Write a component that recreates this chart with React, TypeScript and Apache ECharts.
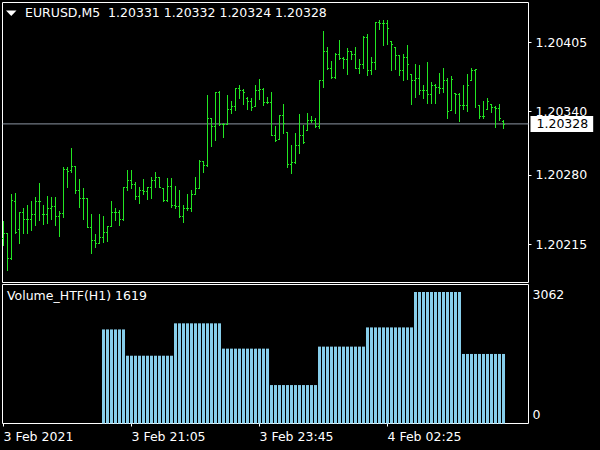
import React, { useEffect, useRef } from "react";
import * as echarts from "echarts";

// ---- data (EURUSD M5, one bar per 5 minutes, starting 3 Feb 2021 18:25) ----
const opens = [
  1.20221, 1.20225, 1.20202, 1.20255, 1.20229, 1.20245, 1.20239, 1.20239, 1.20243, 1.20255,
  1.20243, 1.20243, 1.20249, 1.20251, 1.20241, 1.20244, 1.20286, 1.20285, 1.20288, 1.20266,
  1.20258, 1.20258, 1.20231, 1.20219, 1.20216, 1.20222, 1.20226, 1.20232, 1.20245, 1.20245,
  1.20239, 1.20269, 1.20275, 1.20271, 1.2026, 1.20266, 1.20265, 1.20269, 1.20275, 1.20278,
  1.20268, 1.20256, 1.2027, 1.20252, 1.20251, 1.20241, 1.20249, 1.20249, 1.20262, 1.20268,
  1.20293, 1.20289, 1.20334, 1.20326, 1.20358, 1.20328, 1.20328, 1.20342, 1.20345, 1.20362,
  1.2036, 1.20352, 1.2035, 1.20345, 1.2036, 1.20361, 1.20349, 1.20349, 1.20318, 1.20314,
  1.20336, 1.2032, 1.2029, 1.20292, 1.20308, 1.20318, 1.20322, 1.20332, 1.20332, 1.20326,
  1.20369, 1.20397, 1.20381, 1.20372, 1.20394, 1.2039, 1.20389, 1.20397, 1.20394, 1.20381,
  1.20384, 1.2041, 1.20379, 1.20386, 1.20424, 1.20423, 1.20423, 1.20406, 1.204, 1.20393,
  1.20379, 1.20391, 1.20375, 1.20369, 1.20371, 1.2036, 1.2036, 1.20356, 1.20365, 1.20363,
  1.20362, 1.20369, 1.20341, 1.20357, 1.20356, 1.20346, 1.20346, 1.20369, 1.20379, 1.20346,
  1.20335, 1.20342, 1.20347, 1.20344, 1.20343, 1.20331,
];
const highs = [
  1.20237, 1.20225, 1.20262, 1.20263, 1.20245, 1.20249, 1.20252, 1.20255, 1.20259, 1.20272,
  1.20252, 1.2026, 1.20259, 1.20259, 1.20246, 1.20287, 1.20287, 1.20305, 1.20288, 1.20276,
  1.20268, 1.20258, 1.20243, 1.20224, 1.20243, 1.20241, 1.20232, 1.20255, 1.20249, 1.20247,
  1.20269, 1.20285, 1.20285, 1.20273, 1.20269, 1.20276, 1.20269, 1.20278, 1.20283, 1.20278,
  1.20268, 1.20277, 1.20277, 1.2027, 1.20266, 1.20252, 1.20262, 1.20266, 1.20278, 1.20294,
  1.20293, 1.20355, 1.20334, 1.20358, 1.20359, 1.20329, 1.20355, 1.2035, 1.20362, 1.20365,
  1.20361, 1.20353, 1.20352, 1.20365, 1.2037, 1.20362, 1.20353, 1.20358, 1.20326, 1.20336,
  1.20347, 1.2032, 1.20308, 1.20319, 1.20337, 1.20327, 1.20338, 1.20335, 1.20334, 1.20369,
  1.20415, 1.204, 1.20387, 1.20395, 1.20407, 1.20391, 1.20399, 1.20397, 1.204, 1.20389,
  1.20411, 1.20413, 1.20391, 1.20424, 1.20426, 1.20426, 1.20426, 1.20406, 1.204, 1.20393,
  1.20394, 1.20402, 1.20375, 1.20384, 1.20383, 1.20365, 1.20386, 1.20367, 1.20366, 1.20376,
  1.20381, 1.20371, 1.20373, 1.20357, 1.20357, 1.20365, 1.20375, 1.20381, 1.2038, 1.20346,
  1.2035, 1.20352, 1.20347, 1.20345, 1.20347, 1.20332,
];
const lows = [
  1.20214, 1.20191, 1.20201, 1.20225, 1.20216, 1.20225, 1.20225, 1.20228, 1.20233, 1.20238,
  1.20234, 1.20235, 1.20239, 1.20233, 1.20223, 1.2024, 1.20269, 1.20283, 1.20263, 1.2025,
  1.20239, 1.20231, 1.20207, 1.20212, 1.20216, 1.20217, 1.20218, 1.20232, 1.20238, 1.20233,
  1.20238, 1.20266, 1.20268, 1.20257, 1.20254, 1.20262, 1.20257, 1.20258, 1.20269, 1.20269,
  1.20255, 1.20255, 1.2025, 1.20249, 1.2024, 1.20236, 1.20247, 1.20246, 1.20262, 1.20268,
  1.20283, 1.20288, 1.20307, 1.20313, 1.20327, 1.20316, 1.20328, 1.20338, 1.20341, 1.20352,
  1.20347, 1.20342, 1.20341, 1.20345, 1.20351, 1.20346, 1.20348, 1.20318, 1.20312, 1.20314,
  1.20319, 1.20287, 1.20282, 1.20291, 1.20301, 1.2031, 1.20322, 1.2033, 1.20325, 1.20324,
  1.20363, 1.2038, 1.20371, 1.20371, 1.20389, 1.20381, 1.20375, 1.20389, 1.20381, 1.20376,
  1.20381, 1.20374, 1.20375, 1.2038, 1.20417, 1.20402, 1.20403, 1.20379, 1.2038, 1.20374,
  1.20369, 1.2037, 1.20347, 1.20353, 1.20356, 1.20352, 1.20348, 1.20348, 1.20348, 1.20357,
  1.20358, 1.20334, 1.20341, 1.20338, 1.20331, 1.20342, 1.2034, 1.20369, 1.20344, 1.20334,
  1.20334, 1.20342, 1.20339, 1.20325, 1.20332, 1.20324,
];
const closes = [
  1.20225, 1.20202, 1.20256, 1.20226, 1.20245, 1.20239, 1.20239, 1.20243, 1.20255, 1.20255,
  1.20243, 1.20249, 1.20251, 1.20241, 1.20244, 1.20286, 1.20284, 1.20288, 1.20266, 1.20258,
  1.20258, 1.20231, 1.20219, 1.20216, 1.20222, 1.20226, 1.20232, 1.20245, 1.20245, 1.20239,
  1.20269, 1.20275, 1.20271, 1.2026, 1.20266, 1.20265, 1.20269, 1.20275, 1.20278, 1.20269,
  1.20256, 1.2027, 1.20252, 1.20251, 1.20241, 1.20249, 1.20249, 1.20262, 1.20268, 1.20293,
  1.20289, 1.20334, 1.20326, 1.20358, 1.20328, 1.20328, 1.20342, 1.20345, 1.20362, 1.2036,
  1.20358, 1.2035, 1.20344, 1.2036, 1.20361, 1.20349, 1.20349, 1.20318, 1.20313, 1.20336,
  1.20329, 1.2029, 1.20292, 1.20308, 1.20318, 1.20311, 1.20332, 1.20332, 1.20326, 1.20369,
  1.20397, 1.20381, 1.20372, 1.20394, 1.2039, 1.20389, 1.20397, 1.20394, 1.20381, 1.20384,
  1.2041, 1.20379, 1.20386, 1.20424, 1.20423, 1.20423, 1.20418, 1.20403, 1.20393, 1.20379,
  1.20391, 1.20384, 1.20369, 1.20371, 1.2036, 1.2036, 1.20356, 1.20365, 1.20363, 1.20362,
  1.20369, 1.2034, 1.2037, 1.20356, 1.20346, 1.20346, 1.20365, 1.20379, 1.2038, 1.20335,
  1.20335, 1.2035, 1.20344, 1.20343, 1.20334, 1.20328,
];

// Volume_HTF(H1): one value per hour, spread over the M5 bars of that hour
const hourVolumes = [2190, 1578, 2332, 1743, 895, 1790, 2237, 3062, 1619];
const hourBarCounts = [6, 12, 12, 12, 12, 12, 12, 12, 11];
const firstVolumeBar = 25;

const priceTicks = [1.20215, 1.2028, 1.2034, 1.20405];
const volumeTicks = [0, 3062];
const timeTickBars = [0, 32, 64, 96];
const timeTickLabels = ["3 Feb 2021", "3 Feb 21:05", "3 Feb 23:45", "4 Feb 02:25"];

const titleText = "EURUSD,M5  1.20331 1.20332 1.20324 1.20328";
const indicatorText = "Volume_HTF(H1) 1619";
const bidPrice = 1.20328;

const FONT = "DejaVu Sans";
const FS = 12.5;
const BAR_GREEN = "#22e622";
const VOL_BLUE = "#87ceeb";
const BID_GRAY = "#8c96a4";

const X_MIN = -0.25;
const X_MAX = 131.25;

export default function App() {
  const ref = useRef<HTMLDivElement>(null);

  useEffect(() => {
    if (!ref.current) return;
    const chart = echarts.init(ref.current, undefined, { renderer: "svg" });

    const ohlc = opens.map((o, i) => [i, o, highs[i], lows[i], closes[i]]);
    const volData: number[][] = [];
    let idx = firstVolumeBar;
    hourVolumes.forEach((v, h) => {
      for (let k = 0; k < hourBarCounts[h]; k++) {
        volData.push([idx, v]);
        idx++;
      }
    });

    chart.setOption({
      animation: false,
      backgroundColor: "#000",
      textStyle: { fontFamily: FONT },
      title: [
        {
          text: titleText,
          left: 25,
          top: 6,
          padding: 0,
          textStyle: { color: "#fff", fontSize: FS, fontWeight: "normal", fontFamily: FONT },
        },
        {
          text: indicatorText,
          left: 7,
          top: 289,
          padding: 0,
          textStyle: { color: "#fff", fontSize: FS, fontWeight: "normal", fontFamily: FONT },
        },
      ],
      grid: [
        { left: 2.5, top: 2.5, width: 526, height: 280, show: true, borderColor: "#fff", borderWidth: 1, backgroundColor: "#000" },
        { left: 2.5, top: 284.5, width: 526, height: 139, show: true, borderColor: "#fff", borderWidth: 1, backgroundColor: "#000" },
      ],
      xAxis: [
        { type: "value", gridIndex: 0, min: X_MIN, max: X_MAX, show: false },
        {
          type: "value",
          gridIndex: 1,
          min: X_MIN,
          max: X_MAX,
          axisLine: { show: false },
          splitLine: { show: false },
          axisTick: { show: true, customValues: timeTickBars, length: 3, lineStyle: { color: "#fff" } },
          axisLabel: {
            show: true,
            customValues: timeTickBars,
            formatter: (v: number) => timeTickLabels[timeTickBars.indexOf(Math.round(v))] ?? "",
            align: "left",
            margin: 6,
            color: "#fff",
            fontSize: FS,
            fontFamily: FONT,
          },
        },
      ],
      yAxis: [
        {
          type: "value",
          gridIndex: 0,
          position: "right",
          min: 1.201788,
          max: 1.204422,
          axisLine: { show: false },
          splitLine: { show: false },
          axisTick: { show: false },
          axisLabel: {
            show: true,
            customValues: priceTicks,
            formatter: (v: number) => v.toFixed(5),
            margin: 7,
            color: "#fff",
            fontSize: FS,
            fontFamily: FONT,
          },
        },
        {
          type: "value",
          gridIndex: 1,
          position: "right",
          min: 0,
          max: 3236,
          axisLine: { show: false },
          splitLine: { show: false },
          axisTick: { show: false },
          axisLabel: {
            show: true,
            customValues: volumeTicks,
            margin: 4,
            color: "#fff",
            fontSize: FS,
            fontFamily: FONT,
            formatter: (v: number) => (v === 0 ? "{lo|0}" : "{hi|" + Math.round(v) + "}"),
            rich: {
              lo: { color: "#fff", fontSize: FS, fontFamily: FONT, padding: [0, 0, 19, 0] },
              hi: { color: "#fff", fontSize: FS, fontFamily: FONT, padding: [6, 0, 0, 0] },
            },
          },
        },
      ],
      series: [
        {
          type: "custom",
          name: "EURUSD",
          xAxisIndex: 0,
          yAxisIndex: 0,
          data: ohlc,
          encode: { x: 0, y: [1, 2, 3, 4] },
          silent: true,
          renderItem: (_params: any, api: any) => {
            const i = api.value(0);
            const pO = api.coord([i, api.value(1)]);
            const pH = api.coord([i, api.value(2)]);
            const pL = api.coord([i, api.value(3)]);
            const pC = api.coord([i, api.value(4)]);
            const x = Math.floor(pH[0]);
            const yTop = Math.round(pH[1]);
            const yBot = Math.round(pL[1]);
            const style = { fill: BAR_GREEN };
            return {
              type: "group",
              children: [
                { type: "rect", shape: { x, y: yTop, width: 1, height: Math.max(1, yBot - yTop + 1) }, style },
                { type: "rect", shape: { x: x - 1, y: Math.round(pO[1]), width: 1, height: 1 }, style },
                { type: "rect", shape: { x: x + 1, y: Math.round(pC[1]), width: 1, height: 1 }, style },
              ],
            };
          },
        },
        {
          // bid line across the price panel, with its price box on the axis
          type: "line",
          name: "Bid",
          xAxisIndex: 0,
          yAxisIndex: 0,
          data: [
            [X_MIN, bidPrice],
            [X_MAX, bidPrice],
          ],
          symbol: "none",
          silent: true,
          z: 1,
          lineStyle: { color: BID_GRAY, width: 1, type: "solid" },
          endLabel: {
            show: true,
            distance: 2,
            formatter: () => bidPrice.toFixed(5),
            color: "#000",
            backgroundColor: "#fff",
            padding: [2, 5, 1, 6],
            fontSize: FS,
            fontFamily: FONT,
          },
        },
        {
          type: "bar",
          name: "Volume_HTF(H1)",
          xAxisIndex: 1,
          yAxisIndex: 1,
          data: volData,
          barWidth: 3,
          silent: true,
          itemStyle: { color: VOL_BLUE },
        },
      ],
    });

    // price-axis tick marks, placed through the axis scale
    const tickGraphics: any[] = [
      {
        type: "polygon",
        shape: { points: [[6, 10.5], [16.5, 10.5], [11.25, 16]] },
        style: { fill: "#fff" },
        silent: true,
      },
    ];
    const xRight = chart.convertToPixel({ xAxisIndex: 0 }, X_MAX) as number;
    priceTicks.forEach((p) => {
      const y = Math.round(chart.convertToPixel({ yAxisIndex: 0 }, p) as number) + 0.5;
      tickGraphics.push({
        type: "line",
        shape: { x1: xRight, y1: y, x2: xRight + 3, y2: y },
        style: { stroke: "#fff", lineWidth: 1 },
        silent: true,
      });
    });
    chart.setOption({ graphic: tickGraphics });

    return () => chart.dispose();
  }, []);

  return (
    <div
      ref={ref}
      style={{ position: "absolute", left: 0, top: 0, width: 600, height: 450, background: "#000" }}
    />
  );
}
